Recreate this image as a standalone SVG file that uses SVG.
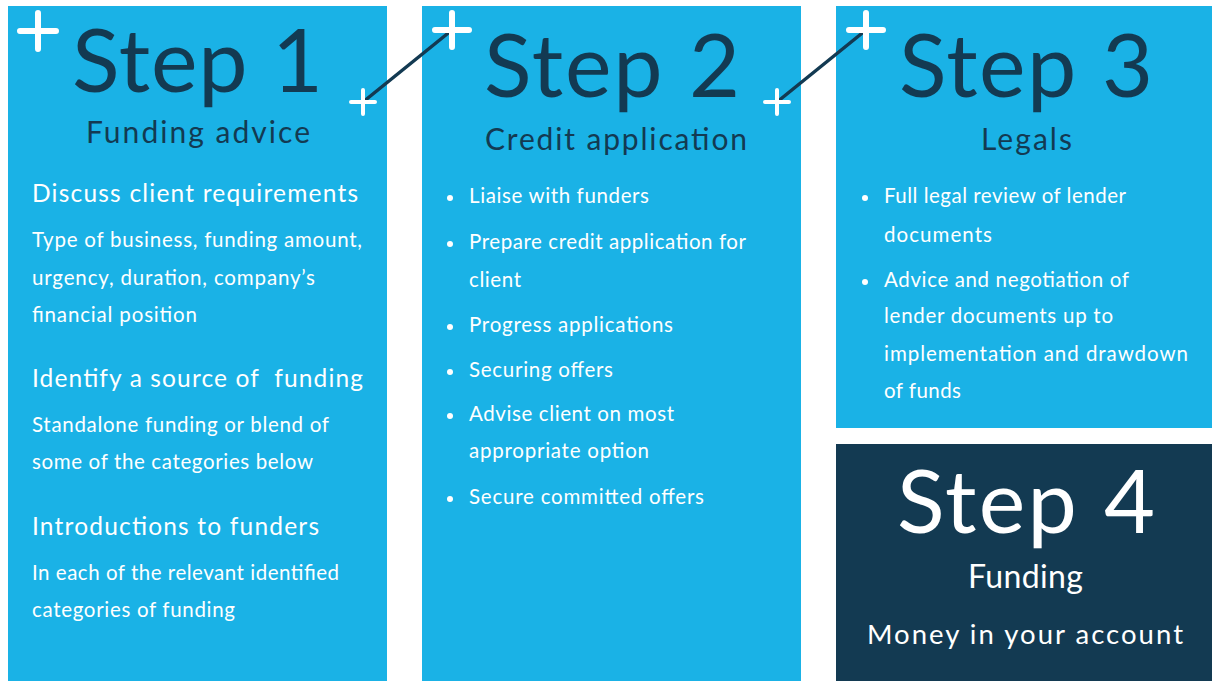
<svg xmlns="http://www.w3.org/2000/svg" width="1212" height="681" viewBox="0 0 1212 681">
<style>
.box{fill:#1ab2e6}
.dark{fill:#133a52}
text{font-family:Lato,"Open Sans","Liberation Sans",sans-serif}
.title{fill:#133a52;font-size:88px;text-anchor:start}
.sub{fill:#133a52;font-size:30px}
.head{fill:#ffffff;font-size:24.5px}
.body{fill:#ffffff;font-size:20.5px}
.w{fill:#ffffff}
.plusL{stroke:#ffffff;stroke-width:6;stroke-linecap:round;fill:none}
.plusS{stroke:#ffffff;stroke-width:4;stroke-linecap:round;fill:none}
.conn{stroke:#133a52;stroke-width:3.5;stroke-linecap:round}
.dot{fill:#ffffff}
</style>
<rect width="1212" height="681" fill="#ffffff"/>

<g id="step1">
<rect class="box" x="8" y="6" width="379" height="675"/>
<path class="plusL" d="M20 31H56M38 13V49"/>
<text class="title" x="72" y="92" textLength="251">Step 1</text>
<text class="sub" x="86" y="143" textLength="224">Funding advice</text>
<text class="head" x="32" y="202" textLength="326">Discuss client requirements</text>
<text class="body" x="32" y="247" textLength="330">Type of business, funding amount,</text>
<text class="body" x="32" y="285" textLength="283">urgency, duration, company’s</text>
<text class="body" x="32" y="322" textLength="165">financial position</text>
<text class="head" x="32" y="387" textLength="331" style="white-space:pre">Identify a source of  funding</text>
<text class="body" x="32" y="432" textLength="297">Standalone funding or blend of</text>
<text class="body" x="32" y="469" textLength="281">some of the categories below</text>
<text class="head" x="32" y="535" textLength="287">Introductions to funders</text>
<text class="body" x="32" y="580" textLength="307">In each of the relevant identified</text>
<text class="body" x="32" y="617" textLength="203">categories of funding</text>
</g>

<g id="step2">
<rect class="box" x="422" y="6" width="379" height="675"/>
<text class="title" x="484" y="97" textLength="256">Step 2</text>
<text class="sub" x="485" y="150" textLength="262">Credit application</text>
<circle class="dot" cx="450" cy="198" r="3"/>
<text class="body" x="469" y="203" textLength="180">Liaise with funders</text>
<circle class="dot" cx="450" cy="244" r="3"/>
<text class="body" x="469" y="249" textLength="277">Prepare credit application for</text>
<text class="body" x="469" y="287" textLength="52">client</text>
<circle class="dot" cx="450" cy="327" r="3"/>
<text class="body" x="469" y="332" textLength="204">Progress applications</text>
<circle class="dot" cx="450" cy="372" r="3"/>
<text class="body" x="469" y="377" textLength="144">Securing offers</text>
<circle class="dot" cx="450" cy="416" r="3"/>
<text class="body" x="469" y="421" textLength="205">Advise client on most</text>
<text class="body" x="469" y="458" textLength="180">appropriate option</text>
<circle class="dot" cx="450" cy="499" r="3"/>
<text class="body" x="469" y="504" textLength="235">Secure committed offers</text>
</g>

<g id="step3">
<rect class="box" x="836" y="6" width="376" height="422"/>
<text class="title" x="899" y="97" textLength="254">Step 3</text>
<text class="sub" x="981" y="150" textLength="91">Legals</text>
<circle class="dot" cx="865" cy="198" r="3"/>
<text class="body" x="884" y="203" textLength="242">Full legal review of lender</text>
<text class="body" x="884" y="242" textLength="108">documents</text>
<circle class="dot" cx="865" cy="282" r="3"/>
<text class="body" x="884" y="287" textLength="245">Advice and negotiation of</text>
<text class="body" x="884" y="323" textLength="229">lender documents up to</text>
<text class="body" x="884" y="361" textLength="304">implementation and drawdown</text>
<text class="body" x="884" y="398" textLength="77">of funds</text>
</g>

<g id="step4">
<rect class="dark" x="836" y="444" width="376" height="237"/>
<text class="title w" x="897" y="533" textLength="258" style="fill:#ffffff">Step 4</text>
<text class="sub" x="968" y="588" textLength="115" style="fill:#ffffff;font-size:32px">Funding</text>
<text class="head" x="867" y="644" textLength="316" style="font-size:27.5px">Money in your account</text>
</g>

<g id="connectors">
<line class="conn" x1="363" y1="102" x2="452" y2="30"/>
<line class="conn" x1="777" y1="102" x2="866" y2="30"/>
<path class="plusS" d="M351 102H375M363 90V114"/>
<path class="plusL" d="M435 30H469M452 13V47"/>
<path class="plusS" d="M765 102H789M777 90V114"/>
<path class="plusL" d="M849 30H883M866 13V47"/>
</g>
</svg>
